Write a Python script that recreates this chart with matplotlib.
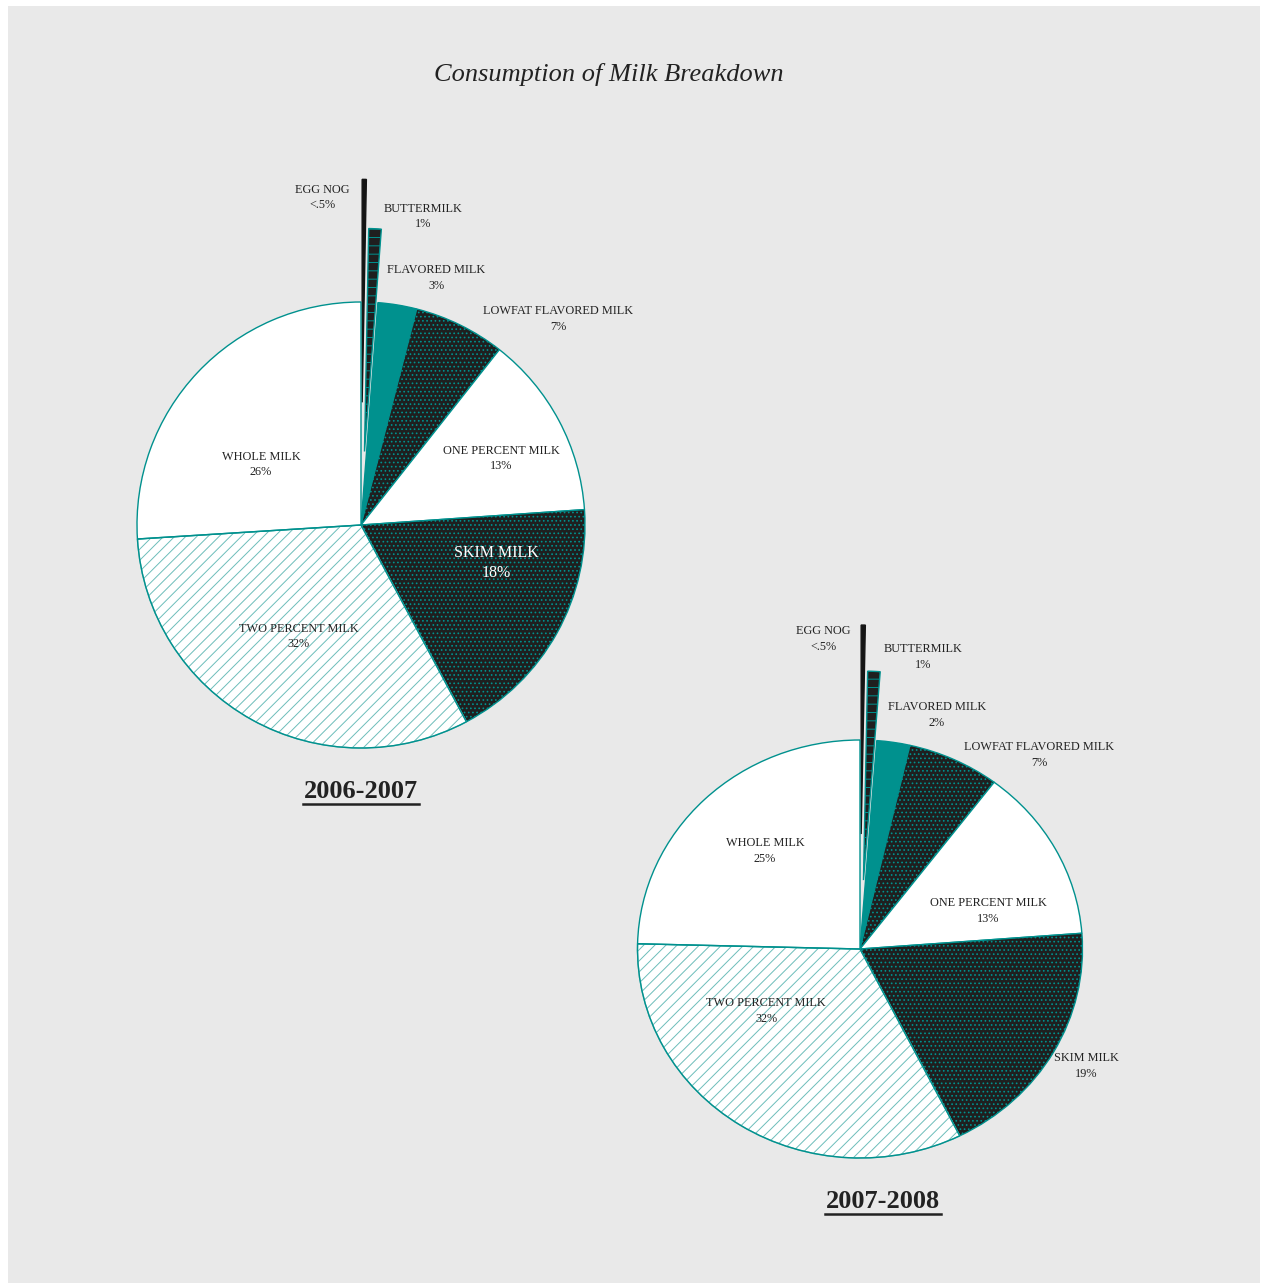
import matplotlib
matplotlib.use("Agg")
import matplotlib.pyplot as plt
from matplotlib.patches import Rectangle, Wedge
from matplotlib.lines import Line2D

# categories, clockwise from 12 o'clock
categories = ["EGG NOG", "BUTTERMILK", "FLAVORED MILK", "LOWFAT FLAVORED MILK",
              "ONE PERCENT MILK", "SKIM MILK", "TWO PERCENT MILK", "WHOLE MILK"]

# shares (percent)
values_0607 = [0.3, 0.9, 2.8, 6.6, 13.3, 18.3, 31.8, 26.0]
values_0708 = [0.3, 0.9, 2.4, 6.7, 13.5, 18.8, 32.8, 24.6]

# printed labels
pct_0607 = ["<.5%", "1%", "3%", "7%", "13%", "18%", "32%", "26%"]
pct_0708 = ["<.5%", "1%", "2%", "7%", "13%", "19%", "32%", "25%"]

years = ["2006-2007", "2007-2008"]

teal = "#00918e"
light_teal = "#6cbdba"
dark = "#1f1f1f"
serif = ["Liberation Serif", "DejaVu Serif"]
plt.rcParams["hatch.linewidth"] = 0.7

W, H = 1262, 1285
fig = plt.figure(figsize=(W / 100, H / 100), dpi=100, facecolor="white")
fig.add_artist(Rectangle((8 / W, 2 / H), (W - 10) / W, (H - 8) / H,
                         transform=fig.transFigure, facecolor="#e9e9e9",
                         edgecolor="none", zorder=-10))

fig.text(609 / W, 1 - 75 / H, "Consumption of Milk Breakdown", family=serif,
         style="italic", fontsize=19, color="#222222", ha="center", va="center")

fills = ["#141414", dark, teal, dark, "white", dark, "white", "white"]
hatches = [None, "--", None, "....", None, "....", "///", None]


def draw_pie(cx, cy, rx, ry, values, pcts, label_xy, year, year_xy, skim_big):
    k = 1.7
    ax = fig.add_axes([(cx - k * rx) / W, 1 - (cy + k * ry) / H, 2 * k * rx / W, 2 * k * ry / H])
    ax.axis("off")
    explode = [0.55, 0.33] + [0] * (len(values) - 2)
    wedges, _ = ax.pie(values, startangle=90, counterclock=False, explode=explode,
                       colors=fills, radius=1, center=(0, 0), frame=False,
                       wedgeprops=dict(linewidth=1.0, edgecolor=teal))
    ax.set_aspect("auto")
    ax.set_xlim(-k, k)
    ax.set_ylim(-k, k)
    for w, h in zip(wedges, hatches):
        if h:
            w.set_hatch(h)
    wedges[0].set_edgecolor("#141414")
    # two percent: lighter hatch, then redraw the teal outline on top
    two = wedges[6]
    two.set_edgecolor(light_teal)
    ax.add_patch(Wedge(two.center, two.r, two.theta1, two.theta2, facecolor="none",
                       edgecolor=teal, linewidth=1.0, zorder=two.get_zorder() + 0.1))
    for i, (name, p) in enumerate(zip(categories, pcts)):
        x, y = label_xy[i]
        if name == "SKIM MILK" and skim_big:
            ax.text(x, y, f"{name}\n{p}", family=serif, fontsize=11.5, color="white",
                    ha="center", va="center", linespacing=1.35)
        else:
            ax.text(x, y, f"{name}\n{p}", family=serif, fontsize=8.8, color="#222222",
                    ha="center", va="center", linespacing=1.4)
    fig.text(year_xy[0] / W, 1 - year_xy[1] / H, year, family=serif, weight="bold",
             fontsize=19, color="#222222", ha="center", va="center")
    half = 58
    fig.add_artist(Line2D([(year_xy[0] - half) / W, (year_xy[0] + half) / W],
                          [1 - (year_xy[1] + 13) / H] * 2, color="#222222", lw=1.8))


labels_0607 = [(-0.174, 1.469), (0.277, 1.384), (0.335, 1.107), (0.879, 0.924),
               (0.625, 0.299), (0.603, -0.170), (-0.277, -0.500), (-0.446, 0.272)]
labels_0708 = [(-0.166, 1.483), (0.283, 1.397), (0.346, 1.120), (0.804, 0.928),
               (0.575, 0.182), (1.016, -0.560), (-0.422, -0.297), (-0.427, 0.469)]

draw_pie(361, 525, 224, 223, values_0607, pct_0607, labels_0607, years[0], (361, 791), True)
draw_pie(860, 949, 222.5, 209, values_0708, pct_0708, labels_0708, years[1], (883, 1201), False)

fig.savefig("out.png", dpi=100, facecolor="white")
